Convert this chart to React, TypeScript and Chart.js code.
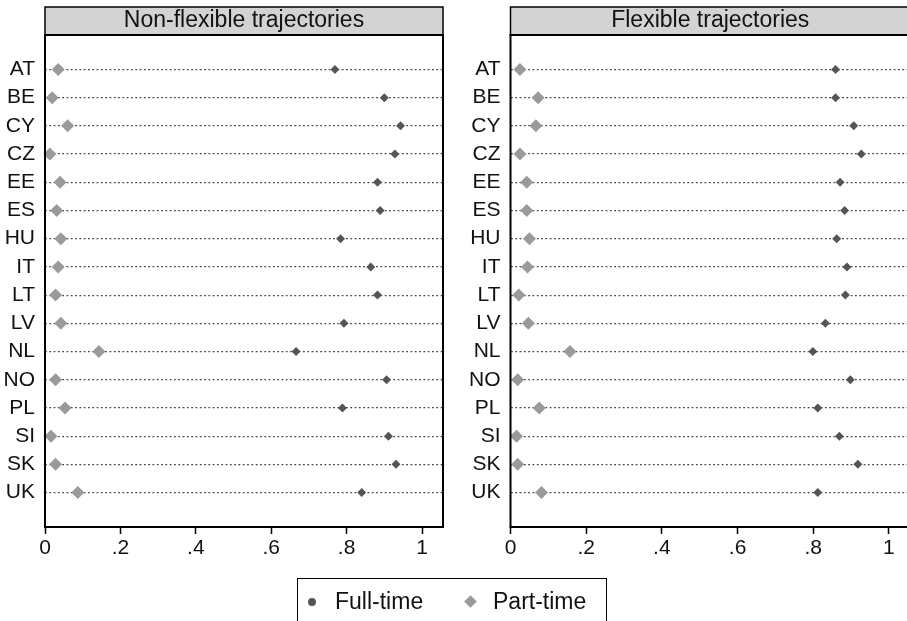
import React, { useEffect, useRef } from "react";
import { Chart, registerables } from "chart.js";

Chart.register(...registerables);

const countries = ["AT", "BE", "CY", "CZ", "EE", "ES", "HU", "IT", "LT", "LV", "NL", "NO", "PL", "SI", "SK", "UK"];
const fullTimeNonFlex = [0.769, 0.9, 0.943, 0.928, 0.882, 0.889, 0.784, 0.864, 0.882, 0.793, 0.666, 0.906, 0.789, 0.911, 0.931, 0.84];
const partTimeNonFlex = [0.035, 0.019, 0.06, 0.013, 0.04, 0.031, 0.042, 0.035, 0.028, 0.042, 0.143, 0.028, 0.053, 0.016, 0.028, 0.087];
const fullTimeFlex = [0.859, 0.859, 0.907, 0.927, 0.871, 0.883, 0.862, 0.889, 0.885, 0.832, 0.799, 0.898, 0.812, 0.869, 0.918, 0.812];
const partTimeFlex = [0.025, 0.073, 0.067, 0.025, 0.043, 0.043, 0.05, 0.045, 0.022, 0.047, 0.157, 0.019, 0.076, 0.016, 0.019, 0.082];
const xTicks = [0, 0.2, 0.4, 0.6, 0.8, 1];
const panelTitles = ["Non-flexible trajectories", "Flexible trajectories"];
const seriesNames = ["Full-time", "Part-time"];

const FONT = "'Liberation Sans', Arial, Helvetica, sans-serif";
const FULL_COLOR = "#555555";
const PART_COLOR = "#9a9a9a";

const framePlugin = {
  id: "panelFrame",
  afterDraw(chart: any, _args: any, opts: any) {
    const { ctx, chartArea } = chart;
    const { left, right, top, bottom } = chartArea;
    ctx.save();
    const hTop = top - 28;
    ctx.fillStyle = "#d3d3d3";
    ctx.fillRect(left, hTop, right - left, 28);
    ctx.strokeStyle = "#000";
    ctx.lineWidth = 1.5;
    ctx.strokeRect(left, hTop, right - left, 28);
    ctx.fillStyle = "#111";
    ctx.font = `23px ${FONT}`;
    ctx.textAlign = "center";
    ctx.textBaseline = "middle";
    ctx.fillText(opts.title || "", (left + right) / 2, hTop + 14);
    ctx.lineWidth = 2;
    ctx.strokeRect(left, top, right - left, bottom - top);
    ctx.restore();
  },
};

function makeConfig(full: number[], part: number[], title: string, yWidth: number, padRight: number) {
  return {
    type: "scatter",
    data: {
      datasets: [
        {
          label: seriesNames[0],
          data: full.map((v, i) => ({ x: v, y: i })),
          pointStyle: "rectRot",
          radius: 4.5,
          backgroundColor: FULL_COLOR,
          borderColor: FULL_COLOR,
          borderWidth: 0,
        },
        {
          label: seriesNames[1],
          data: part.map((v, i) => ({ x: v, y: i })),
          pointStyle: "rectRot",
          radius: 6.5,
          backgroundColor: PART_COLOR,
          borderColor: PART_COLOR,
          borderWidth: 0,
        },
      ],
    },
    options: {
      responsive: false,
      animation: false,
      events: [],
      layout: { padding: { top: 35, right: padRight, bottom: 0, left: 0 } },
      plugins: {
        legend: { display: false },
        tooltip: { enabled: false },
        panelFrame: { title },
      },
      scales: {
        x: {
          type: "linear",
          min: 0,
          max: 1.0557,
          afterBuildTicks: (s: any) => {
            s.ticks = xTicks.map((v) => ({ value: v }));
          },
          afterFit: (s: any) => {
            s.height = 53;
          },
          ticks: {
            color: "#111",
            font: { family: FONT, size: 21 },
            padding: 2,
            maxRotation: 0,
            autoSkip: false,
            callback: (v: number) => (v === 0 ? "0" : v === 1 ? "1" : String(v).replace(/^0\./, ".")),
          },
          grid: {
            display: true,
            drawOnChartArea: false,
            drawTicks: true,
            tickLength: 7,
            tickColor: "#000",
            tickWidth: 1.5,
          },
          border: { display: false },
        },
        y: {
          type: "linear",
          reverse: true,
          min: -1.22,
          max: 16.22,
          afterBuildTicks: (s: any) => {
            s.ticks = countries.map((_, i) => ({ value: i }));
          },
          afterFit: (s: any) => {
            s.width = yWidth;
          },
          ticks: {
            color: "#111",
            font: { family: FONT, size: 21 },
            padding: 10,
            autoSkip: false,
            callback: (v: number) => countries[v] ?? "",
          },
          grid: {
            display: true,
            drawOnChartArea: true,
            drawTicks: false,
            tickLength: 0,
            color: "#444444",
            lineWidth: 1.2,
          },
          border: { display: false, dash: [1.8, 2.5] },
        },
      },
    },
    plugins: [framePlugin],
  } as any;
}

function Panel(props: { full: number[]; part: number[]; title: string; left: number; width: number; yWidth: number; padRight: number }) {
  const ref = useRef<HTMLCanvasElement | null>(null);
  useEffect(() => {
    if (!ref.current) return;
    const chart = new Chart(ref.current, makeConfig(props.full, props.part, props.title, props.yWidth, props.padRight));
    return () => chart.destroy();
  }, []);
  return (
    <canvas
      ref={ref}
      width={props.width}
      height={580}
      style={{ position: "absolute", left: props.left, top: 0, width: props.width, height: 580 }}
    />
  );
}

export default function App() {
  return (
    <div
      style={{
        position: "absolute",
        left: 0,
        top: 0,
        width: 907,
        height: 621,
        overflow: "hidden",
        background: "#fff",
        fontFamily: FONT,
      }}
    >
      <Panel full={fullTimeNonFlex} part={partTimeNonFlex} title={panelTitles[0]} left={0} width={450} yWidth={45} padRight={7} />
      <Panel full={fullTimeFlex} part={partTimeFlex} title={panelTitles[1]} left={465} width={460} yWidth={45.5} padRight={15} />
      <div
        style={{
          position: "absolute",
          left: 297,
          top: 578,
          width: 310,
          height: 60,
          border: "1px solid #000",
          boxSizing: "border-box",
        }}
      >
        <div
          style={{
            position: "absolute",
            left: 10,
            top: 19,
            width: 8,
            height: 8,
            borderRadius: 4,
            background: FULL_COLOR,
          }}
        />
        <span style={{ position: "absolute", left: 37, top: 10, fontSize: 23, lineHeight: "24px", color: "#111", whiteSpace: "nowrap" }}>
          {seriesNames[0]}
        </span>
        <div
          style={{
            position: "absolute",
            left: 168,
            top: 18,
            width: 9,
            height: 9,
            background: PART_COLOR,
            transform: "rotate(45deg)",
          }}
        />
        <span style={{ position: "absolute", left: 195, top: 10, fontSize: 23, lineHeight: "24px", color: "#111", whiteSpace: "nowrap" }}>
          {seriesNames[1]}
        </span>
      </div>
    </div>
  );
}
